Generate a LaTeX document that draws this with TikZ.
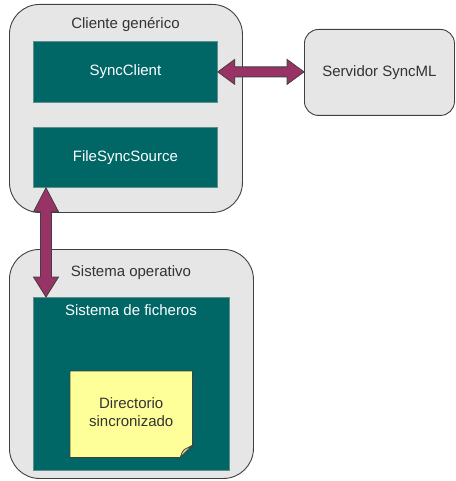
\documentclass[tikz,border=0pt]{standalone}
\usepackage{fontspec}
\setmainfont{Liberation Sans}
\usetikzlibrary{calc}

\definecolor{panelgray}{HTML}{E6E6E6}
\definecolor{edgegray}{HTML}{404040}
\definecolor{textgray}{HTML}{333333}
\definecolor{tealbox}{HTML}{006666}
\definecolor{tealedge}{HTML}{5F8F8C}
\definecolor{arrowfill}{HTML}{993366}
\definecolor{notefill}{HTML}{FFFF99}
\definecolor{notefold}{HTML}{D8D88A}

\tikzset{
  container/.style={draw=edgegray, line width=0.9pt, fill=panelgray,
    anchor=north west, inner sep=0pt},
  module/.style={draw=tealedge, line width=0.8pt, fill=tealbox,
    anchor=north west, inner sep=0pt, text=white},
  title/.style={text=textgray, inner sep=0pt},
  modtitle/.style={text=white, inner sep=0pt},
  fatarrow/.style={draw=edgegray, line width=0.8pt, fill=arrowfill, line join=miter},
  notetext/.style={text=textgray, align=center, inner sep=0pt, font=\fontsize{15}{18}\selectfont},
}

\begin{document}
\begin{tikzpicture}[x=1pt, y=-1pt, font=\fontsize{15}{18}\selectfont]
  \useasboundingbox (0,0) rectangle (455,481);

  % client container and its two modules
  \node[container, rounded corners=30pt, minimum width=233pt, minimum height=208pt] (cli) at (9,4) {};
  \node[title] (clititle) at (125.5,25) {Cliente genérico};
  \node[module, minimum width=184pt, minimum height=61pt] (sc) at (33,41) {};
  \node[modtitle] at (sc.center) {SyncClient};
  \node[module, minimum width=184pt, minimum height=60pt] (fss) at (33,127) {};
  \node[modtitle] at (fss.center) {FileSyncSource};

  % remote server
  \node[container, rounded corners=14pt, minimum width=150pt, minimum height=86pt] (srv) at (304,29) {};
  \node[title] at (srv.center) {Servidor SyncML};

  % operating system container with the file system
  \node[container, rounded corners=30pt, minimum width=244pt, minimum height=229pt] (os) at (9,249) {};
  \node[title] (ostitle) at (131,273) {Sistema operativo};
  \node[module, minimum width=196pt, minimum height=173pt] (fs) at (33,297) {};
  \node[modtitle] (fstitle) at (131,310) {Sistema de ficheros};

  % sticky note with folded corner
  \node[anchor=north west, minimum width=122pt, minimum height=86pt, inner sep=0pt] (dir) at (70,371) {};
  \fill[notefill, draw=edgegray, line width=0.8pt]
    (dir.north west) -- (dir.north east) -- ($(dir.south east)+(0,-12)$)
    -- ($(dir.south east)+(-12,0)$) -- (dir.south west) -- cycle;
  \fill[notefold, draw=edgegray, line width=0.8pt]
    ($(dir.south east)+(0,-12)$) -- ($(dir.south east)+(-12,0)$)
    .. controls ($(dir.south east)+(-10,-6)$) .. ($(dir.south east)+(-8,-8)$)
    -- cycle;
  \node[notetext] at ($(dir.center)+(0,-2)$) {Directorio\\sincronizado};

  % SyncClient <-> server
  \path[fatarrow] let \p1 = (sc.east), \p2 = (srv.west) in
    (\x1,\y1) -- (\x1+17pt,\y1+12.5pt) -- (\x1+17pt,\y1+5pt)
    -- (\x2-17pt,\y1+5pt) -- (\x2-17pt,\y1+12.5pt) -- (\x2,\y1)
    -- (\x2-17pt,\y1-12.5pt) -- (\x2-17pt,\y1-5pt)
    -- (\x1+17pt,\y1-5pt) -- (\x1+17pt,\y1-12.5pt) -- cycle;

  % FileSyncSource <-> file system
  \path[fatarrow] let \p1 = ($(fss.south west)+(13,0)$), \p2 = ($(fs.north west)+(13,0)$) in
    (\x1,\y1) -- (\x1+12.5pt,\y1-24pt) -- (\x1+5.5pt,\y1-24pt)
    -- (\x1+5.5pt,\y2+20pt) -- (\x1+12.5pt,\y2+20pt) -- (\x1,\y2)
    -- (\x1-12.5pt,\y2+20pt) -- (\x1-5.5pt,\y2+20pt)
    -- (\x1-5.5pt,\y1-24pt) -- (\x1-12.5pt,\y1-24pt) -- cycle;
\end{tikzpicture}
\end{document}
